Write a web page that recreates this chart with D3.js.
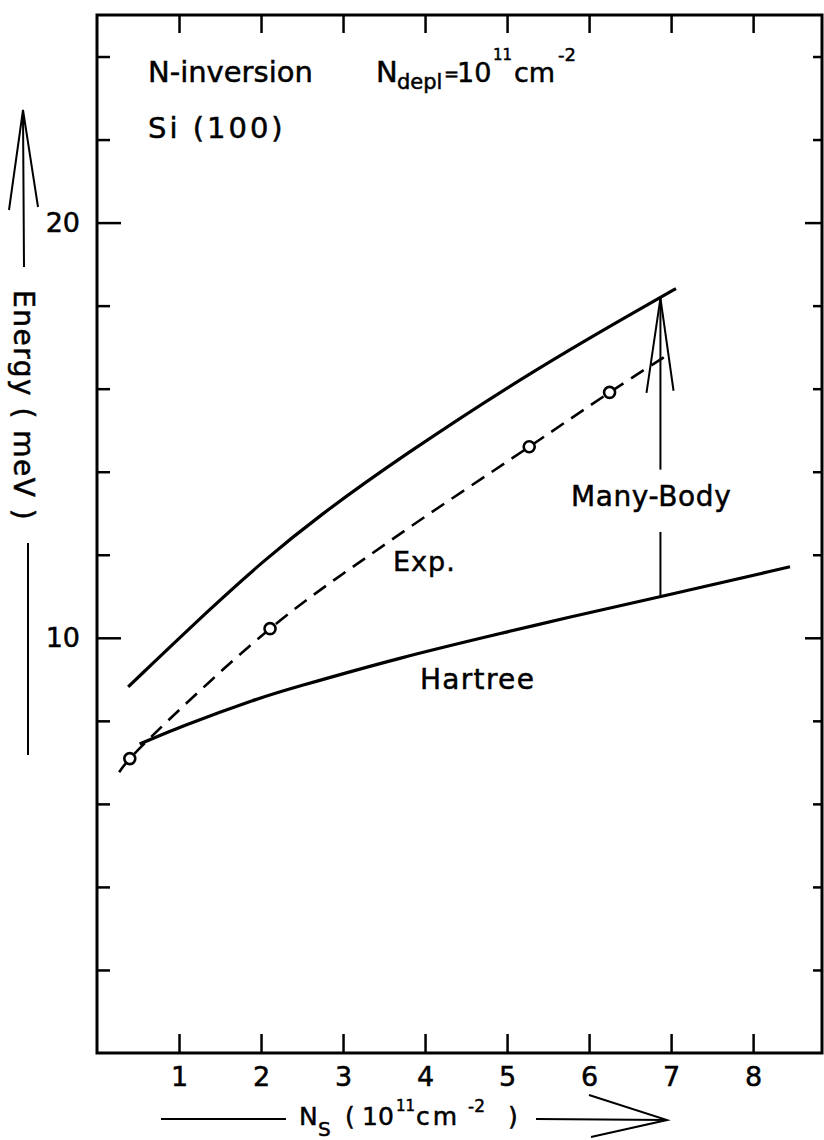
<!DOCTYPE html>
<html>
<head>
<meta charset="utf-8">
<script src="https://cdn.jsdelivr.net/npm/d3@7"></script>
<style>
  body { margin: 0; background: #fff; }
  text { font-family: "DejaVu Sans", sans-serif; fill: #000; stroke: #000; stroke-width: 0.5px; }
</style>
</head>
<body>
<div id="chart"></div>
<script>
// Tick values
const xTicks = [1, 2, 3, 4, 5, 6, 7, 8];
const yTicks = [2, 4, 6, 8, 12, 14, 16, 18, 22, 24];
const yLabelTicks = [10, 20];

// Many-body calculation (upper solid curve)
const manyBodyN = [0.38, 1.46, 2.03, 2.68, 3.70, 5.32, 6.85, 7.06];
const manyBodyE = [8.82, 10.85, 11.85, 12.9, 14.35, 16.45, 18.18, 18.41];

// Experiment (dashed) and measured points
const expN = [0.27, 0.40, 2.11, 3.57, 5.27, 6.25, 6.93];
const expE = [6.76, 7.09, 10.22, 12.33, 14.6, 15.91, 16.78];
const expPointN = [0.40, 2.11, 5.27, 6.25];
const expPointE = [7.09, 10.22, 14.6, 15.91];

// Hartree calculation (lower solid curve)
const hartreeN = [0.52, 1.0, 1.99, 2.35, 3.70, 5.0, 5.65, 6.87, 8.45];
const hartreeE = [7.44, 7.85, 8.56, 8.77, 9.53, 10.14, 10.45, 10.99, 11.71];

// "Many-Body" arrow: from Hartree up to the many-body curve
const arrowN = 6.87;
const arrowFromE = 10.99;
const arrowToE = 18.18;
const arrowGapE = [12.55, 14.05];
const arrowHeadN = [6.70, 7.03];
const arrowHeadE = [15.9, 15.95];

const width = 824, height = 1140;
const margin = { top: 15, right: 2, bottom: 87, left: 97 };

const svg = d3.select("#chart")
    .append("svg")
    .attr("width", width)
    .attr("height", height);

const x = d3.scaleLinear().domain([0, 8.84]).range([margin.left, width - margin.right]);
const y = d3.scaleLinear().domain([0, 25]).range([height - margin.bottom, margin.top]);

// Frame
svg.append("rect")
    .attr("x", x(0)).attr("y", y(25))
    .attr("width", x(8.84) - x(0)).attr("height", y(0) - y(25))
    .attr("fill", "none").attr("stroke", "#000").attr("stroke-width", 3);

function styleAxis(g) {
    g.select(".domain").remove();
    g.selectAll(".tick line").attr("stroke", "#000").attr("stroke-width", 2.5);
    g.selectAll(".tick text").style("font-size", "27px").attr("fill", "#000");
}

// Bottom axis, ticks pointing inwards
svg.append("g")
    .attr("transform", `translate(0,${y(0)})`)
    .call(d3.axisBottom(x).tickValues(xTicks).tickSize(-19).tickPadding(14).tickFormat(d3.format("d")))
    .call(styleAxis);

// Top axis, no labels
svg.append("g")
    .attr("transform", `translate(0,${y(25)})`)
    .call(d3.axisTop(x).tickValues(xTicks).tickSize(-18).tickFormat(""))
    .call(styleAxis);

// Left axis: minor and labelled ticks
svg.append("g")
    .attr("transform", `translate(${x(0)},0)`)
    .call(d3.axisLeft(y).tickValues(yTicks).tickSize(-13).tickFormat(""))
    .call(styleAxis);
svg.append("g")
    .attr("transform", `translate(${x(0)},0)`)
    .call(d3.axisLeft(y).tickValues(yLabelTicks).tickSize(-24).tickPadding(17).tickFormat(d3.format("d")))
    .call(styleAxis);

// Right axis
svg.append("g")
    .attr("transform", `translate(${x(8.84)},0)`)
    .call(d3.axisRight(y).tickValues(yTicks).tickSize(-9).tickFormat(""))
    .call(styleAxis);
svg.append("g")
    .attr("transform", `translate(${x(8.84)},0)`)
    .call(d3.axisRight(y).tickValues(yLabelTicks).tickSize(-17).tickFormat(""))
    .call(styleAxis);

// Curves
const smoothLine = d3.line()
    .x(d => x(d[0]))
    .y(d => y(d[1]))
    .curve(d3.curveBasis);

const expLine = d3.line()
    .x(d => x(d[0]))
    .y(d => y(d[1]))
    .curve(d3.curveCatmullRom.alpha(0.5));

svg.append("path")
    .datum(d3.zip(manyBodyN, manyBodyE))
    .attr("fill", "none").attr("stroke", "#000").attr("stroke-width", 3.2)
    .attr("d", smoothLine);

svg.append("path")
    .datum(d3.zip(hartreeN, hartreeE))
    .attr("fill", "none").attr("stroke", "#000").attr("stroke-width", 3.2)
    .attr("d", smoothLine);

svg.append("path")
    .datum(d3.zip(expN, expE))
    .attr("fill", "none").attr("stroke", "#000").attr("stroke-width", 2.6)
    .attr("stroke-dasharray", "15,9")
    .attr("d", expLine);

svg.selectAll(".exp-point")
    .data(d3.zip(expPointN, expPointE))
    .join("circle")
    .attr("class", "exp-point")
    .attr("cx", d => x(d[0])).attr("cy", d => y(d[1]))
    .attr("r", 5.5)
    .attr("fill", "#fff").attr("stroke", "#000").attr("stroke-width", 2.6);

// Many-Body arrow
svg.append("line")
    .attr("x1", x(arrowN)).attr("x2", x(arrowN))
    .attr("y1", y(arrowFromE)).attr("y2", y(arrowGapE[0]))
    .attr("stroke", "#000").attr("stroke-width", 2);
svg.append("line")
    .attr("x1", x(arrowN)).attr("x2", x(arrowN))
    .attr("y1", y(arrowGapE[1])).attr("y2", y(arrowToE))
    .attr("stroke", "#000").attr("stroke-width", 2);
arrowHeadN.forEach((n, i) => {
    svg.append("line")
        .attr("x1", x(arrowN)).attr("y1", y(arrowToE))
        .attr("x2", x(n)).attr("y2", y(arrowHeadE[i]))
        .attr("stroke", "#000").attr("stroke-width", 2);
});

// Curve labels
svg.append("text").attr("x", 393).attr("y", 571).style("font-size", "27px").style("letter-spacing", "1px").text("Exp.");
svg.append("text").attr("x", 420).attr("y", 689).style("font-size", "28px").style("letter-spacing", "1.3px").text("Hartree");
svg.append("text").attr("x", 571).attr("y", 506).style("font-size", "28px").style("letter-spacing", "0.6px").text("Many-Body");

// Top-left annotations
svg.append("text").attr("x", 148).attr("y", 82).style("font-size", "29px").text("N-inversion");
svg.append("text").attr("x", 148).attr("y", 138).style("font-size", "29px").style("letter-spacing", "3px").text("Si (100)");

const depl = svg.append("text").attr("y", 82).style("font-size", "27px");
depl.append("tspan").attr("x", 376).style("font-size", "29px").text("N");
depl.append("tspan").attr("x", 397).attr("dy", 7).style("font-size", "21px").text("depl");
depl.append("tspan").attr("x", 444).attr("dy", -9).style("font-size", "18px").text("=");
depl.append("tspan").attr("x", 457).attr("dy", 2).text("10");
depl.append("tspan").attr("x", 493).attr("dy", -22).style("font-size", "15px").text("11");
depl.append("tspan").attr("x", 514).attr("dy", 22).text("cm");
depl.append("tspan").attr("x", 558).attr("dy", -21).style("font-size", "18px").text("-2");

// Y axis title with arrow
svg.append("text")
    .attr("transform", "translate(14,290) rotate(90)")
    .style("font-size", "28px").style("letter-spacing", "1.5px")
    .text("Energy ( meV )");
svg.append("line").attr("x1", 28).attr("x2", 28).attr("y1", 543).attr("y2", 755)
    .attr("stroke", "#000").attr("stroke-width", 2);
svg.append("path")
    .attr("d", "M24,267 L23,110 M9,210 L23,110 L38,207")
    .attr("fill", "none").attr("stroke", "#000").attr("stroke-width", 2);

// X axis title with arrow
const xt = svg.append("text").attr("y", 1125).style("font-size", "25px");
xt.append("tspan").attr("x", 299).text("N");
xt.append("tspan").attr("x", 318).attr("dy", 11).style("font-size", "20px").text("S");
xt.append("tspan").attr("x", 345).attr("dy", -11).text("(");
xt.append("tspan").attr("x", 362).text("10");
xt.append("tspan").attr("x", 396).attr("dy", -14).style("font-size", "15px").text("11");
xt.append("tspan").attr("x", 416).attr("dy", 14).style("letter-spacing", "3px").text("cm");
xt.append("tspan").attr("x", 468).attr("dy", -13).style("font-size", "17px").text("-2");
xt.append("tspan").attr("x", 508).attr("dy", 13).text(")");
svg.append("path")
    .attr("d", "M161,1119 L286,1119 M536,1119 L667,1120 M589,1095 L667,1120 L591,1137")
    .attr("fill", "none").attr("stroke", "#000").attr("stroke-width", 2);
</script>
</body>
</html>
